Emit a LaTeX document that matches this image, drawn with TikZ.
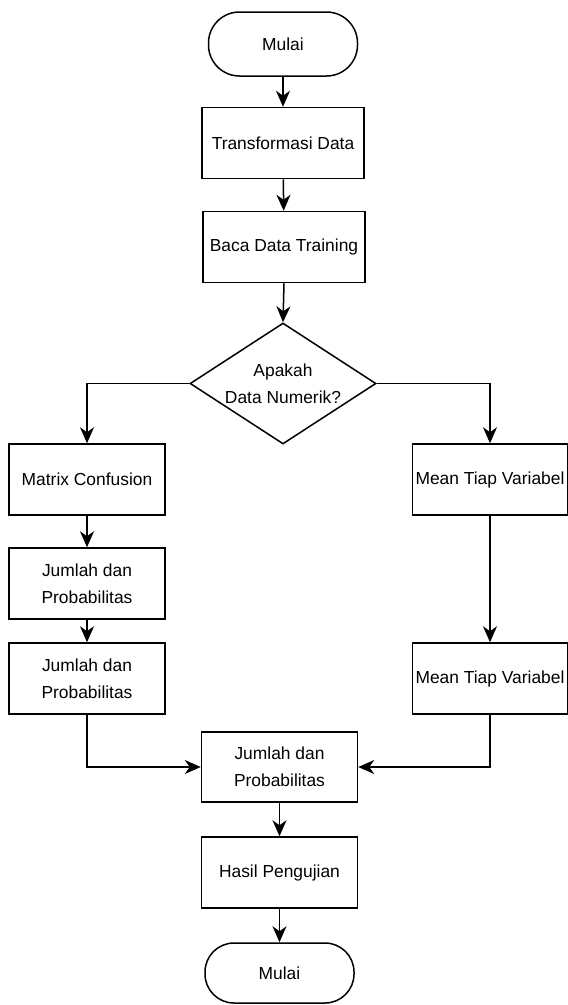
\documentclass[tikz,border=0pt]{standalone}
\usepackage{fontspec}
\setmainfont{Liberation Sans}
\usetikzlibrary{shapes.geometric,arrows.meta}
\begin{document}
\begin{tikzpicture}[x=1pt,y=1pt,line width=1.5pt,>={Stealth[length=16pt,width=14pt,inset=5pt]}]
	\tikzstyle{every node}+=[font=\fontsize{17.4}{26.7}\selectfont,align=center,inner sep=2pt]
	\tikzstyle{terminal}=[draw,rectangle,rounded corners=31pt,minimum width=149pt,minimum height=64pt]
	\tikzstyle{proses}=[draw,rectangle,minimum width=156pt,minimum height=71pt]
	\tikzstyle{keputusan}=[draw,diamond,inner sep=0pt,minimum width=186pt,minimum height=121pt]
	\useasboundingbox (0,0) rectangle (568,-1005);
	\node [terminal] (mulai) at (283,-44) {Mulai};
	\node [proses,minimum width=162pt] (transformasi) at (283,-143) {Transformasi Data};
	\node [proses,minimum width=162pt] (baca) at (284,-247) {Baca Data Training};
	\node [keputusan,label={[align=center]center:Apakah\\Data Numerik?}] (cek) at (283,-383.5) {};
	\node [proses] (matrix) at (87,-479.5) {Matrix Confusion};
	\node [proses,minimum width=155pt] (meana) at (490,-479.5) {Mean Tiap Variabel};
	\node [proses] (jumlaha) at (87,-583.5) {Jumlah dan\\Probabilitas};
	\node [proses] (jumlahb) at (87,-678.5) {Jumlah dan\\Probabilitas};
	\node [proses,minimum width=155pt] (meanb) at (490,-678.5) {Mean Tiap Variabel};
	\node [proses,minimum height=70pt] (gabung) at (279.5,-767) {Jumlah dan\\Probabilitas};
	\node [proses] (hasil) at (279.5,-872.5) {Hasil Pengujian};
	\node [terminal,minimum height=60pt,rounded corners=29pt] (selesai) at (279.5,-973) {Mulai};
	\draw [->] (mulai) -- (transformasi);
	\draw [->] (transformasi) -- (baca);
	\draw [->] (baca.south) -- (cek.north);
	\draw [->] (cek.west) -| (matrix.north);
	\draw [->] (cek.east) -| (meana.north);
	\draw [->] (matrix) -- (jumlaha);
	\draw [->] (jumlaha) -- (jumlahb);
	\draw [->] (meana) -- (meanb);
	\draw [->] (jumlahb.south) |- (gabung.west);
	\draw [->] (meanb.south) |- (gabung.east);
	\draw [->] (gabung) -- (hasil);
	\draw [->] (hasil) -- (selesai);
\end{tikzpicture}
\end{document}
